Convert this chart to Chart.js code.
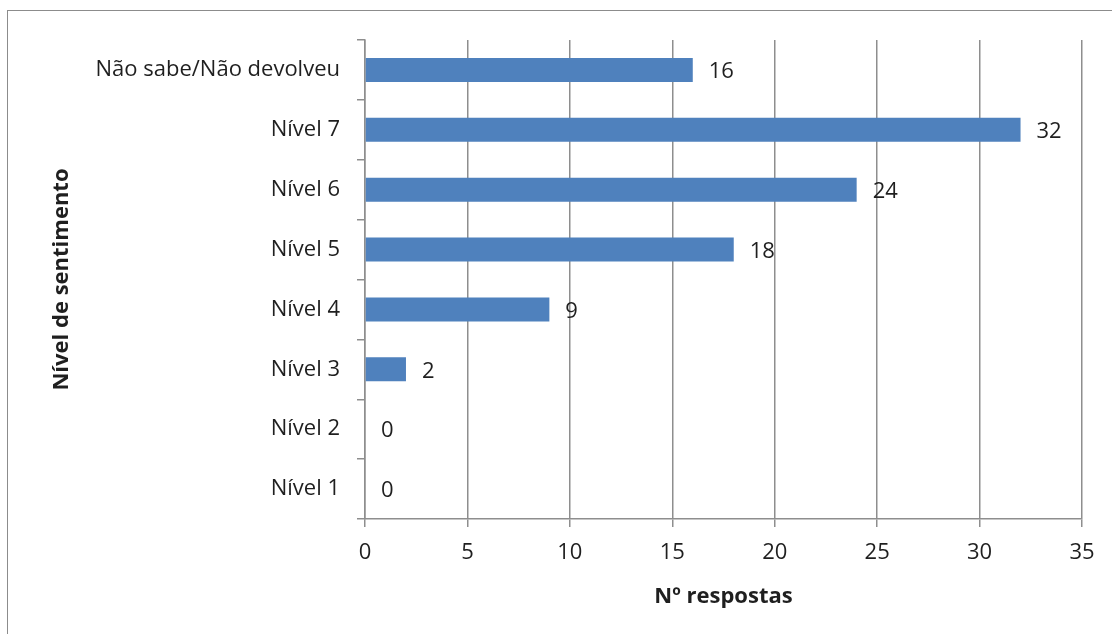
<!DOCTYPE html>
<html>
<head>
<meta charset="utf-8">
<script src="https://cdn.jsdelivr.net/npm/chart.js@4.4.0/dist/chart.umd.min.js"></script>
<style>
  html, body { margin: 0; padding: 0; background: #fff; }
  #wrap { position: relative; width: 1112px; height: 634px; overflow: hidden; }
  #frame { position: absolute; left: 7px; top: 10px; width: 1120px; height: 700px; border: 1px solid #8c8c8c; box-sizing: border-box; }
  canvas { position: absolute; left: 0; top: 0; }
</style>
</head>
<body>
<div id="wrap">
  <div id="frame"></div>
  <canvas id="myBarChart" width="1112" height="634"></canvas>
</div>
<script>
const categories = ["Não sabe/Não devolveu", "Nível 7", "Nível 6", "Nível 5", "Nível 4", "Nível 3", "Nível 2", "Nível 1"];
const respostas = [16, 32, 24, 18, 9, 2, 0, 0];
const xMin = 0, xMax = 35, xStep = 5;

const fontFamily = "'Open Sans', sans-serif";
const textColor = '#1f1f1f';
const lineColor = '#8e8e8e';

// value labels at the end of each bar
const barLabels = {
    id: 'barLabels',
    afterDatasetsDraw(chart){
        const ctx = chart.ctx;
        ctx.save();
        ctx.font = '22px ' + fontFamily;
        ctx.fillStyle = textColor;
        ctx.textAlign = 'left';
        ctx.textBaseline = 'middle';
        chart.getDatasetMeta(0).data.forEach((bar, i) => {
            ctx.fillText(String(respostas[i]), bar.x + 16, bar.y + 2);
        });
        ctx.restore();
    }
};

var ctx = document.getElementById('myBarChart').getContext('2d');
var chart = new Chart(ctx, {
    type: 'bar',
    data: {
        labels: categories,
        datasets: [{
            label: "Nº respostas",
            backgroundColor: "#4f81bd",
            data: respostas,
            barPercentage: 0.4,
            categoryPercentage: 1.0
        }]
    },
    options: {
        indexAxis: 'y',
        responsive: false,
        animation: false,
        layout: { padding: { left: 45, top: 40, right: 30, bottom: 20 } },
        plugins: { legend: { display: false }, tooltip: { enabled: false } },
        scales: {
            x: {
                min: xMin, max: xMax,
                ticks: { stepSize: xStep, color: textColor, font: { family: fontFamily, size: 22 }, padding: 13 },
                grid: { color: lineColor, lineWidth: 1.5, tickLength: 8 },
                border: { color: lineColor, width: 1.5 },
                title: { display: true, text: 'Nº respostas', color: textColor, font: { family: fontFamily, size: 22, weight: 'bold' } },
                afterFit(scale){ scale.height = 95; }
            },
            y: {
                offset: true,
                ticks: { color: textColor, font: { family: fontFamily, size: 22 }, padding: 17 },
                grid: { offset: true, drawOnChartArea: false, color: lineColor, lineWidth: 1.5, tickLength: 8 },
                border: { color: lineColor, width: 1.5 },
                title: { display: true, text: 'Nível de sentimento', color: textColor, font: { family: fontFamily, size: 22, weight: 'bold' } },
                afterFit(scale){ scale.width = 320; }
            }
        }
    },
    plugins: [barLabels]
});
</script>
</body>
</html>
